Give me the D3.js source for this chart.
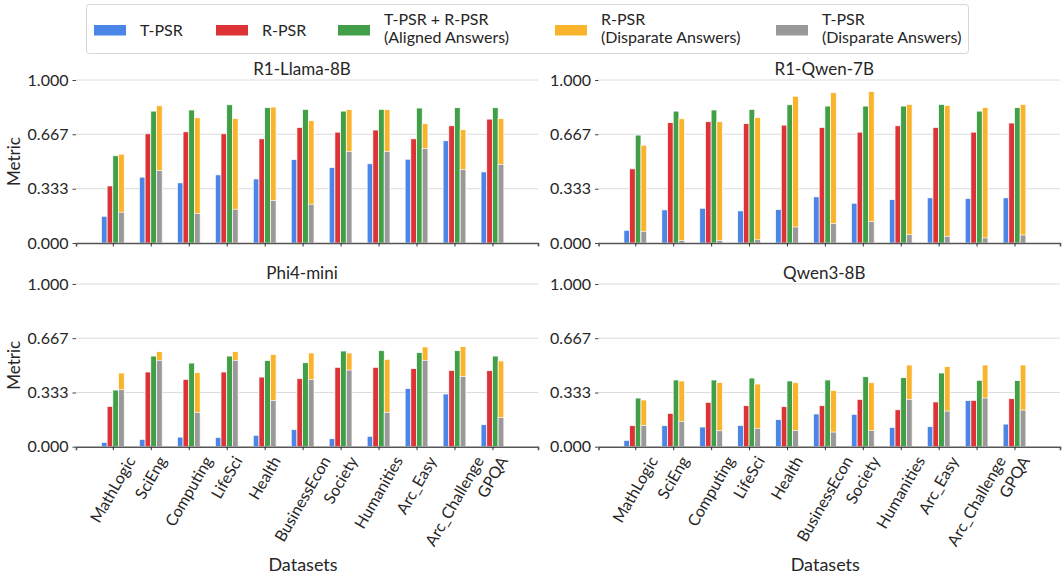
<!DOCTYPE html>
<html>
<head>
<meta charset="utf-8">
<script src="https://cdn.jsdelivr.net/npm/d3@7"></script>
<style>
  body { margin: 0; background: #fff; }
  text { font-family: Lato, "Open Sans", sans-serif; fill: #262626; }
</style>
</head>
<body>
<div id="chart"></div>
<script>
// categories
var datasets = ["MathLogic", "SciEng", "Computing", "LifeSci", "Health", "BusinessEcon",
    "Society", "Humanities", "Arc_Easy", "Arc_Challenge", "GPQA"];
var models = ["R1-Llama-8B", "R1-Qwen-7B", "Phi4-mini", "Qwen3-8B"];
var seriesLabels = [["T-PSR"], ["R-PSR"], ["T-PSR + R-PSR", "(Aligned Answers)"],
    ["R-PSR", "(Disparate Answers)"], ["T-PSR", "(Disparate Answers)"]];
var seriesColors = ["#4a86e8", "#dd3337", "#41a047", "#f9b42c", "#999999"];
var yTicks = [0, 0.333, 0.667, 1.0];

// R1-Llama-8B
var llamaT = [0.164, 0.404, 0.369, 0.418, 0.393, 0.512, 0.463, 0.486, 0.514, 0.627, 0.436];
var llamaR = [0.350, 0.670, 0.682, 0.670, 0.639, 0.709, 0.680, 0.693, 0.639, 0.719, 0.760];
var llamaAligned = [0.535, 0.809, 0.816, 0.848, 0.830, 0.820, 0.809, 0.820, 0.828, 0.830, 0.830];
var llamaDispR = [0.545, 0.842, 0.768, 0.764, 0.834, 0.750, 0.818, 0.818, 0.732, 0.695, 0.764];
var llamaDispT = [0.189, 0.445, 0.180, 0.207, 0.260, 0.238, 0.561, 0.561, 0.580, 0.451, 0.482];

// R1-Qwen-7B
var qwen7T = [0.078, 0.203, 0.213, 0.197, 0.205, 0.283, 0.244, 0.266, 0.277, 0.273, 0.277];
var qwen7R = [0.455, 0.738, 0.744, 0.732, 0.723, 0.709, 0.680, 0.719, 0.709, 0.680, 0.736];
var qwen7Aligned = [0.662, 0.809, 0.816, 0.820, 0.848, 0.840, 0.840, 0.840, 0.850, 0.809, 0.830];
var qwen7DispR = [0.600, 0.762, 0.744, 0.770, 0.900, 0.922, 0.930, 0.850, 0.844, 0.832, 0.850];
var qwen7DispT = [0.072, 0.016, 0.016, 0.020, 0.098, 0.119, 0.131, 0.051, 0.041, 0.031, 0.049];

// Phi4-mini
var phiT = [0.027, 0.045, 0.059, 0.057, 0.070, 0.105, 0.049, 0.064, 0.357, 0.324, 0.135];
var phiR = [0.248, 0.459, 0.414, 0.459, 0.428, 0.418, 0.488, 0.488, 0.480, 0.469, 0.467];
var phiAligned = [0.348, 0.557, 0.514, 0.557, 0.529, 0.516, 0.588, 0.590, 0.578, 0.590, 0.557];
var phiDispR = [0.453, 0.584, 0.455, 0.584, 0.566, 0.576, 0.576, 0.537, 0.613, 0.615, 0.527];
var phiDispT = [0.350, 0.531, 0.211, 0.531, 0.283, 0.412, 0.471, 0.211, 0.531, 0.432, 0.180];

// Qwen3-8B
var qwen3T = [0.039, 0.129, 0.121, 0.131, 0.166, 0.201, 0.199, 0.119, 0.123, 0.283, 0.139];
var qwen3R = [0.129, 0.205, 0.273, 0.252, 0.246, 0.252, 0.291, 0.227, 0.275, 0.285, 0.295];
var qwen3Aligned = [0.299, 0.410, 0.410, 0.422, 0.404, 0.410, 0.430, 0.424, 0.453, 0.408, 0.406];
var qwen3DispR = [0.287, 0.404, 0.395, 0.385, 0.393, 0.346, 0.393, 0.502, 0.492, 0.502, 0.502];
var qwen3DispT = [0.131, 0.156, 0.098, 0.113, 0.100, 0.090, 0.100, 0.291, 0.219, 0.299, 0.225];

var modelSeries = [
    [llamaT, llamaR, llamaAligned, llamaDispR, llamaDispT],
    [qwen7T, qwen7R, qwen7Aligned, qwen7DispR, qwen7DispT],
    [phiT, phiR, phiAligned, phiDispR, phiDispT],
    [qwen3T, qwen3R, qwen3Aligned, qwen3DispR, qwen3DispT]
];

var width = 1063, height = 574;
var svg = d3.select("#chart").append("svg")
    .attr("width", width)
    .attr("height", height);

// panel boxes: [left, right, top(y of 1.0), bottom(y of 0)]
var panels = [
    { x0: 76, x1: 538, y0: 80, y1: 243 },
    { x0: 598.5, x1: 1060, y0: 80, y1: 243 },
    { x0: 76, x1: 538, y0: 284, y1: 446.7 },
    { x0: 598.5, x1: 1060, y0: 284, y1: 446.7 }
];
var barW = 0.15;
// slot offsets (left edge) for blue, red, green, yellow, grey (grey overlays yellow)
var slotOffset = [-2 * barW, -barW, 0, barW, barW];

panels.forEach(function (p, m) {
    var x = d3.scaleLinear().domain([-0.97, 11.2]).range([p.x0, p.x1]);
    var y = d3.scaleLinear().domain([0, 1]).range([p.y1, p.y0]);
    var g = svg.append("g");

    // grid
    g.selectAll("line.grid")
        .data(yTicks.filter(function (d) { return d > 0; }))
        .enter().append("line")
        .attr("x1", p.x0).attr("x2", p.x1)
        .attr("y1", function (d) { return y(d); })
        .attr("y2", function (d) { return y(d); })
        .attr("stroke", "#dcdcdc")
        .attr("stroke-width", 1);

    // y axis
    var yAxis = g.append("g")
        .attr("transform", "translate(" + p.x0 + ",0)")
        .call(d3.axisLeft(y).tickValues(yTicks).tickFormat(d3.format(".3f"))
            .tickSize(3.5).tickPadding(4));
    yAxis.select(".domain").remove();
    yAxis.selectAll(".tick line").attr("stroke", "#444");
    yAxis.selectAll(".tick text")
        .style("font-size", "16px")
        .style("font-family", "Lato, sans-serif")
        .attr("fill", "#262626");

    // bars
    modelSeries[m].forEach(function (vals, s) {
        g.selectAll("rect.s" + s)
            .data(vals)
            .enter().append("rect")
            .attr("x", function (d, i) { return x(i + slotOffset[s]); })
            .attr("width", x(barW) - x(0))
            .attr("y", function (d) { return y(d); })
            .attr("height", function (d) { return y(0) - y(d); })
            .attr("fill", seriesColors[s])
            .attr("stroke", "#fff")
            .attr("stroke-width", 0.7);
    });

    // x axis
    var xAxis = g.append("g")
        .attr("transform", "translate(0," + p.y1 + ")")
        .call(d3.axisBottom(x).tickValues(d3.range(datasets.length))
            .tickSize(3.5).tickFormat(""));
    xAxis.select(".domain").attr("stroke", "#555").attr("stroke-width", 1.6);
    xAxis.selectAll(".tick line").attr("stroke", "#333");

    // tick labels, rotated
    if (m >= 2) {
        g.selectAll("text.xl")
            .data(datasets)
            .enter().append("text")
            .attr("class", "xl")
            .text(function (d) { return d; })
            .style("font-size", "16px")
            .attr("text-anchor", "end")
            .attr("dy", "0.35em")
            .each(function (d, i) {
                var L = this.getComputedTextLength();
                var ex = x(i) + 0.25 * L;
                var ey = p.y1 + 7 + 0.25 * 16;
                d3.select(this).attr("transform",
                    "translate(" + ex + "," + ey + ") rotate(-60)");
            });
        svg.append("text")
            .attr("x", (p.x0 + p.x1) / 2 - 4)
            .attr("y", 571)
            .attr("text-anchor", "middle")
            .style("font-size", "18px")
            .text("Datasets");
    }

    // title
    svg.append("text")
        .attr("x", (p.x0 + p.x1) / 2 - 5)
        .attr("y", p.y0 - 5)
        .attr("text-anchor", "middle")
        .style("font-size", "17px")
        .text(models[m]);

    if (m % 2 === 0) {
        svg.append("text")
            .attr("transform", "translate(20," + ((p.y0 + p.y1) / 2) + ") rotate(-90)")
            .attr("text-anchor", "middle")
            .style("font-size", "17px")
            .text("Metric");
    }
});

// legend
var legendX = [94, 216, 338, 555, 776];
var legend = svg.append("g");
legend.append("rect")
    .attr("x", 86.5).attr("y", 4.5)
    .attr("width", 882).attr("height", 49)
    .attr("rx", 3)
    .attr("fill", "#fff")
    .attr("stroke", "#d6d6d6");

seriesLabels.forEach(function (lines, s) {
    legend.append("rect")
        .attr("x", legendX[s]).attr("y", 25)
        .attr("width", 32).attr("height", 10.5)
        .attr("fill", seriesColors[s]);
    var t = legend.append("text")
        .attr("x", legendX[s] + 46)
        .style("font-size", "16px");
    if (lines.length === 1) {
        t.attr("y", 36).text(lines[0]);
    } else {
        lines.forEach(function (l, k) {
            t.append("tspan").attr("x", legendX[s] + 46)
                .attr("y", 24.5 + k * 18.5).text(l);
        });
    }
});
</script>
</body>
</html>
